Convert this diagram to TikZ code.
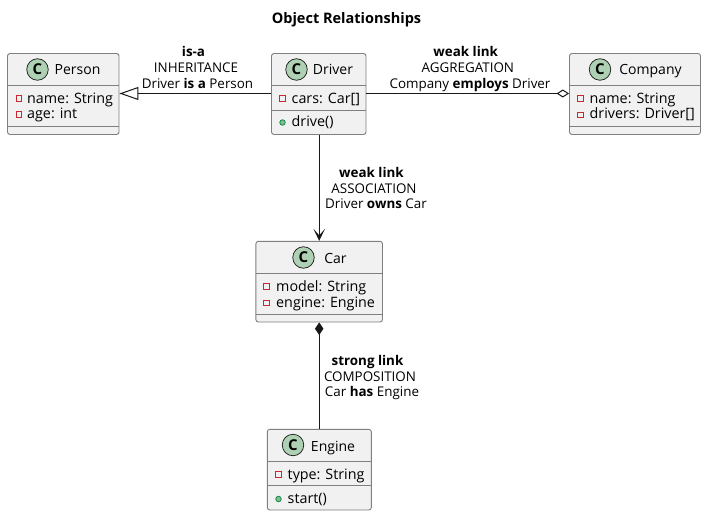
\documentclass[tikz,border=0pt]{standalone}
\usepackage{fontspec}
\setmainfont{Open Sans}
\usetikzlibrary{arrows.meta}
\definecolor{boxfill}{HTML}{F1F1F1}
\definecolor{boxedge}{HTML}{7F7F7F}
\definecolor{inkc}{HTML}{181818}
\definecolor{spotc}{HTML}{ADD1B2}
\definecolor{privc}{HTML}{C82930}
\definecolor{pubf}{HTML}{84BE84}
\definecolor{pubd}{HTML}{038048}
\tikzset{
  x=1pt,y=-1pt,
  classbox/.style={draw=boxedge,fill=boxfill,line width=0.9pt,rounded corners=2.5pt,inner sep=0pt},
  sep/.style={draw=boxedge,line width=0.9pt},
  spot/.style={circle,draw=inkc,fill=spotc,line width=0.7pt,minimum size=21.5pt,inner sep=0pt,font=\fontsize{15}{15}\selectfont\bfseries},
  cname/.style={anchor=base,inner sep=0pt,text=black,font=\fontsize{14}{14}\selectfont},
  member/.style={anchor=base west,inner sep=0pt,text=black,font=\fontsize{14.3}{14.3}\selectfont},
  lab/.style={anchor=base,inner sep=0pt,text=black,font=\fontsize{13.4}{13.4}\selectfont},
  labb/.style={lab,font=\fontsize{13.4}{13.4}\selectfont\bfseries},
  titletext/.style={anchor=base,inner sep=0pt,text=black,font=\fontsize{14.5}{14.5}\selectfont\bfseries},
  priv/.style={draw=privc,line width=0.8pt,minimum size=5.5pt,inner sep=0pt},
  pub/.style={circle,draw=pubd,fill=pubf,line width=0.7pt,minimum size=5.5pt,inner sep=0pt},
  rel/.style={draw=inkc,line width=1pt},
}
\begin{document}
\begin{tikzpicture}
\useasboundingbox (0,0) rectangle (706,516);
\node[titletext] (title) at (346.5,24) {Object Relationships};

% boxes
\node[classbox,minimum width=111.5pt,minimum height=81pt] (person) at (63.25,94) {};
\node[classbox,minimum width=94.5pt,minimum height=81pt] (driver) at (318.75,94) {};
\node[classbox,minimum width=131pt,minimum height=81pt] (company) at (635,94) {};
\node[classbox,minimum width=126.6pt,minimum height=80.7pt] (car) at (319.2,281.65) {};
\node[classbox,minimum width=104pt,minimum height=80.7pt] (engine) at (319.3,469.65) {};

% separators
\draw[sep] (7.5,85.5) -- (119,85.5) (7.5,126) -- (119,126);
\draw[sep] (271.5,85.5) -- (366,85.5) (271.5,110) -- (366,110);
\draw[sep] (569.5,85.5) -- (700.5,85.5) (569.5,126) -- (700.5,126);
\draw[sep] (255.9,273.3) -- (382.5,273.3) (255.9,314.3) -- (382.5,314.3);
\draw[sep] (267.3,461.3) -- (371.3,461.3) (267.3,485.7) -- (371.3,485.7);

% headers
\node[spot] (spotperson) at (37.5,69.5) {C};
\node[cname] (nameperson) at (77.5,75) {Person};
\node[spot] (spotdriver) at (296.5,69.5) {C};
\node[cname] (namedriver) at (333,75) {Driver};
\node[spot] (spotcompany) at (600,69.5) {C};
\node[cname] (namecompany) at (650.5,75) {Company};
\node[spot] (spotcar) at (303.5,257.5) {C};
\node[cname] (namecar) at (335.5,263) {Car};
\node[spot] (spotengine) at (293,445) {C};
\node[cname] (nameengine) at (333,451) {Engine};

% members
\node[priv] (ip1) at (18.8,98.5) {};
\node[member] (mp1) at (27,103) {name: String};
\node[priv] (ip2) at (18.8,114.5) {};
\node[member] (mp2) at (27,119) {age: int};

\node[priv] (id1) at (282.5,98.5) {};
\node[member] (md1) at (291.5,103) {cars: Car[]};
\node[pub] (id2) at (282.5,122.5) {};
\node[member] (md2) at (291.5,127) {drive()};

\node[priv] (ic1) at (580.5,98.5) {};
\node[member] (mc1) at (589.5,103) {name: String};
\node[priv] (ic2) at (580.5,115) {};
\node[member] (mc2) at (589.5,119) {drivers: Driver[]};

\node[priv] (ia1) at (266.5,286.5) {};
\node[member] (ma1) at (276,291) {model: String};
\node[priv] (ia2) at (266.5,303) {};
\node[member] (ma2) at (276,307) {engine: Engine};

\node[priv] (ie1) at (278.5,474.5) {};
\node[member] (me1) at (287.5,479) {type: String};
\node[pub] (ie2) at (278.5,499) {};
\node[member] (me2) at (287.5,503) {start()};

% connectors
\draw[rel,-{Triangle[open,length=19pt,width=13pt,fill=white]}] ([yshift=0.5pt]driver.west) -- ([yshift=0.5pt]person.east);
\draw[rel,-{Diamond[open,length=12.5pt,width=8pt,fill=white]}] ([yshift=0.5pt]driver.east) -- ([yshift=0.5pt]company.west);
\draw[rel,-{Stealth[length=12pt,width=11.5pt,inset=6.5pt]}] (car.north |- driver.south) -- (car.north);
\draw[rel,{Diamond[length=12.5pt,width=8.5pt]}-] (car.south) -- (car.south |- engine.north);

% labels
\node[labb] (l1a) at (193.5,57) {is-a};
\node[lab] (l1b) at (196,73) {INHERITANCE};
\node[lab] (l1c) at (197.5,88.5) {Driver \textbf{is a} Person};

\node[labb] (l2a) at (465.7,57) {weak link};
\node[lab] (l2b) at (467.8,73) {AGGREGATION};
\node[lab] (l2c) at (470,88.5) {Company \textbf{employs} Driver};

\node[labb] (l3a) at (371.5,177.5) {weak link};
\node[lab] (l3b) at (374,193) {ASSOCIATION};
\node[lab] (l3c) at (376,208.5) {Driver \textbf{owns} Car};

\node[labb] (l4a) at (367.5,365.5) {strong link};
\node[lab] (l4b) at (370,381) {COMPOSITION};
\node[lab] (l4c) at (372,396.5) {Car \textbf{has} Engine};
\end{tikzpicture}
\end{document}
